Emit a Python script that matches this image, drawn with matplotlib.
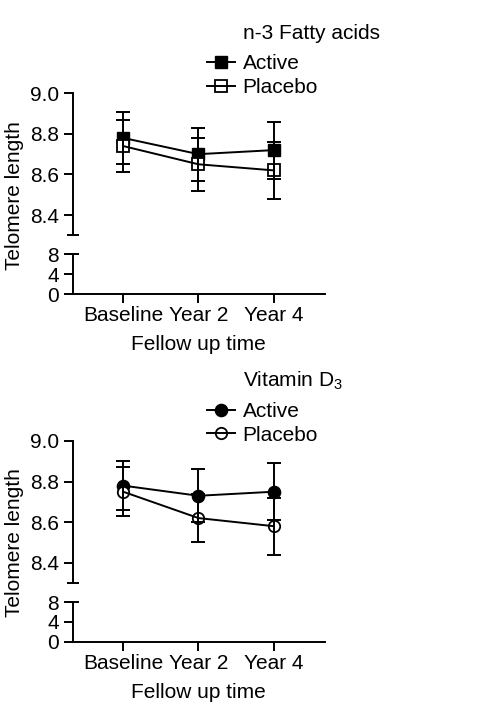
import matplotlib

matplotlib.use("Agg")
import matplotlib.pyplot as plt
from matplotlib.lines import Line2D

plt.rcParams["font.family"] = ["Liberation Sans", "DejaVu Sans"]
plt.rcParams["font.size"] = 15
plt.rcParams["mathtext.default"] = "regular"

times = ["Baseline", "Year 2", "Year 4"]

fa_active = [8.78, 8.70, 8.72]
fa_active_err = [0.13, 0.13, 0.14]
fa_placebo = [8.74, 8.65, 8.62]
fa_placebo_err = [0.13, 0.13, 0.14]

vd_active = [8.78, 8.73, 8.75]
vd_active_err = [0.12, 0.13, 0.14]
vd_placebo = [8.75, 8.62, 8.58]
vd_placebo_err = [0.12, 0.12, 0.14]

W, H = 490, 722
LW = 1.4


def fx(px):
    return px / W


def fy(py):
    return 1 - py / H


def style_axis(ax):
    for s in ("top", "right"):
        ax.spines[s].set_visible(False)
    for s in ("left", "bottom"):
        ax.spines[s].set_linewidth(LW)
    ax.tick_params(direction="out", length=6.7, width=LW, pad=3)


def draw_panel(fig, top, title, marker, msize, active, active_err, placebo, placebo_err):
    left, right = 72.7, 325
    x = list(range(len(times)))
    xlim = (-0.67, 2.68)

    # upper part of the broken axis
    ax = fig.add_axes([fx(left), fy(top + 142), fx(right - left), 142 / H])
    style_axis(ax)
    ax.spines["bottom"].set_visible(False)
    ax.set_xlim(*xlim)
    ax.set_ylim(8.3, 9.0)
    ax.set_yticks([8.4, 8.6, 8.8, 9.0])
    ax.set_yticklabels(["8.4", "8.6", "8.8", "9.0"])
    ax.tick_params(bottom=False, labelbottom=False)

    ax.plot(x, active, ls="none", marker=marker, ms=msize, mfc="k", mec="k", zorder=2)
    ax.plot(x, placebo, ls="none", marker=marker, ms=msize - 0.6, mfc="white",
            mec="k", mew=1.3, zorder=3)
    for vals, err in ((active, active_err), (placebo, placebo_err)):
        ax.errorbar(x, vals, yerr=err, color="k", lw=LW, capsize=5, capthick=LW,
                    elinewidth=LW, zorder=4)
    ax.plot([0], [0], transform=ax.transAxes, marker="_", ms=8.5, mew=LW,
            color="k", clip_on=False)

    # lower part 0..8
    ax2 = fig.add_axes([fx(left), fy(top + 200.7), fx(right - left), 39.7 / H])
    style_axis(ax2)
    ax2.set_xlim(*xlim)
    ax2.set_ylim(0, 8)
    ax2.set_yticks([0, 4, 8])
    ax2.set_xticks(x)
    ax2.set_xticklabels(times)
    ax2.tick_params(axis="x", pad=2)
    ax2.set_xlabel("Fellow up time", labelpad=7)
    ax2.plot([0], [1], transform=ax2.transAxes, marker="_", ms=8.5, mew=LW,
             color="k", clip_on=False)

    fig.text(0.029, fy(top + 102), "Telomere length", rotation=90,
             ha="center", va="center")

    # legend block
    fig.text(fx(242.7), fy(top - 54.3), title, ha="left", va="baseline")
    h_act = (Line2D([], [], ls="none", marker=marker, ms=msize, mfc="k", mec="k"),
             Line2D([], [], color="k", lw=LW))
    h_pla = (Line2D([], [], ls="none", marker=marker, ms=msize - 0.6, mfc="white",
                    mec="k", mew=1.3),
             Line2D([], [], color="k", lw=LW))
    fig.legend([h_act, h_pla], ["Active", "Placebo"], loc="upper left",
               bbox_to_anchor=(fx(207), fy(top - 39)), frameon=False,
               borderpad=0, borderaxespad=0, handlelength=1.35,
               handletextpad=0.36, labelspacing=0.22)


fig = plt.figure(figsize=(W / 100, H / 100), dpi=100)

draw_panel(fig, 93.3, "n-3 Fatty acids", "s", 8.8,
           fa_active, fa_active_err, fa_placebo, fa_placebo_err)
draw_panel(fig, 441, "Vitamin D$_3$", "o", 8.8,
           vd_active, vd_active_err, vd_placebo, vd_placebo_err)

fig.savefig("out.png", dpi=100)
